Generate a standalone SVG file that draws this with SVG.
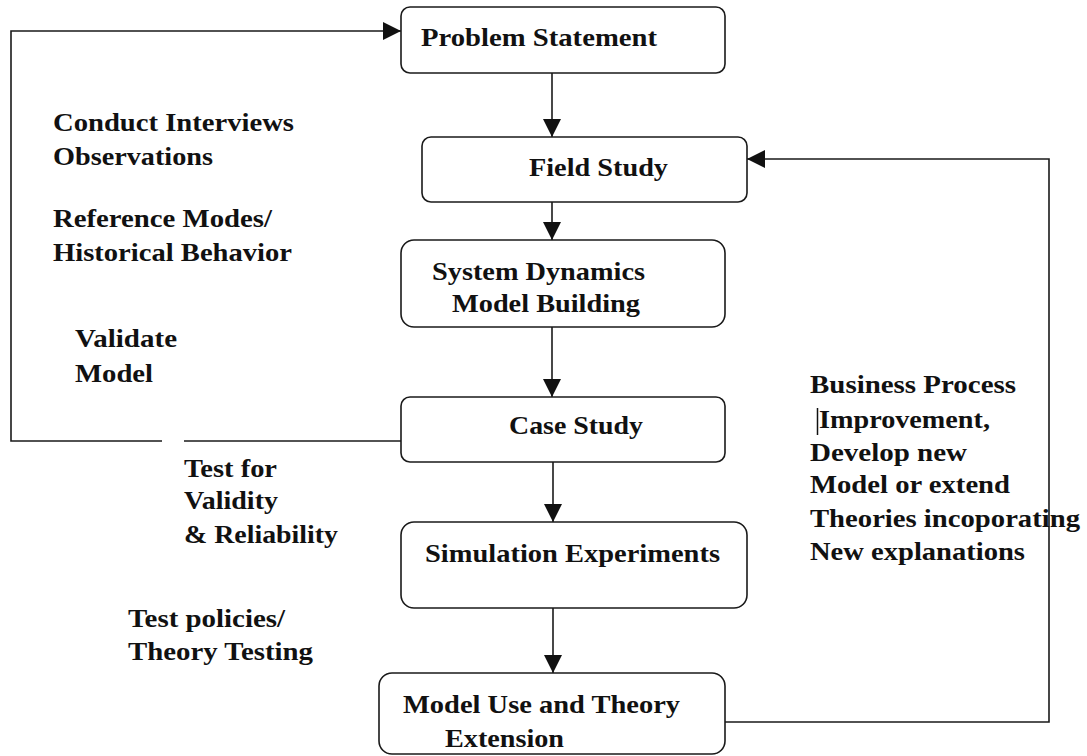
<svg xmlns="http://www.w3.org/2000/svg" width="1087" height="756" viewBox="0 0 1087 756">
  <style>
    .box { fill: #ffffff; stroke: #1a1a1a; stroke-width: 1.6; }
    .conn { fill: none; stroke: #1a1a1a; stroke-width: 1.6; }
    .t { font-family: "Liberation Serif", "Times New Roman", serif; font-size: 26px; font-weight: bold; fill: #111111; }
  </style>
  <defs>
    <marker id="arr" viewBox="0 0 18 18" refX="18" refY="9" markerWidth="18" markerHeight="18" orient="auto" markerUnits="userSpaceOnUse">
      <path d="M0,0 L18,9 L0,18 z" fill="#111111"/>
    </marker>
  </defs>
  <rect width="1087" height="756" fill="#ffffff"/>

  <g id="connectors">
    <line class="conn" x1="552" y1="73" x2="552" y2="137" marker-end="url(#arr)"/>
    <line class="conn" x1="552" y1="202" x2="552" y2="240" marker-end="url(#arr)"/>
    <line class="conn" x1="552" y1="327" x2="552" y2="397" marker-end="url(#arr)"/>
    <line class="conn" x1="553" y1="462" x2="553" y2="522" marker-end="url(#arr)"/>
    <line class="conn" x1="553" y1="608" x2="553" y2="673" marker-end="url(#arr)"/>
    <polyline class="conn" points="401,441 184,441"/>
    <polyline class="conn" points="162,441 11,441 11,31 401,31" marker-end="url(#arr)"/>
    <polyline class="conn" points="725,722 1049,722 1049,159 747,159" marker-end="url(#arr)"/>
  </g>

  <g id="problem-statement">
    <rect class="box" x="401" y="7" width="324" height="66" rx="9"/>
    <text class="t" x="421" y="46" textLength="236" lengthAdjust="spacingAndGlyphs">Problem Statement</text>
  </g>
  <g id="field-study">
    <rect class="box" x="422" y="137" width="325" height="65" rx="9"/>
    <text class="t" x="529" y="176" textLength="139" lengthAdjust="spacingAndGlyphs">Field Study</text>
  </g>
  <g id="system-dynamics">
    <rect class="box" x="401" y="240" width="324" height="87" rx="13"/>
    <text class="t" x="432" y="280" textLength="213" lengthAdjust="spacingAndGlyphs">System Dynamics</text>
    <text class="t" x="452" y="312" textLength="188" lengthAdjust="spacingAndGlyphs">Model Building</text>
  </g>
  <g id="case-study">
    <rect class="box" x="401" y="397" width="324" height="65" rx="9"/>
    <text class="t" x="509" y="434" textLength="134" lengthAdjust="spacingAndGlyphs">Case Study</text>
  </g>
  <g id="simulation-experiments">
    <rect class="box" x="401" y="522" width="346" height="86" rx="13"/>
    <text class="t" x="425" y="562" textLength="295" lengthAdjust="spacingAndGlyphs">Simulation Experiments</text>
  </g>
  <g id="model-use">
    <rect class="box" x="379" y="673" width="346" height="81" rx="13"/>
    <text class="t" x="403" y="713" textLength="277" lengthAdjust="spacingAndGlyphs">Model Use and Theory</text>
    <text class="t" x="445" y="747" textLength="119" lengthAdjust="spacingAndGlyphs">Extension</text>
  </g>

  <g id="label-interviews">
    <text class="t" x="53" y="131" textLength="241" lengthAdjust="spacingAndGlyphs">Conduct Interviews</text>
    <text class="t" x="53" y="165" textLength="160" lengthAdjust="spacingAndGlyphs">Observations</text>
  </g>
  <g id="label-reference">
    <text class="t" x="53" y="227" textLength="219" lengthAdjust="spacingAndGlyphs">Reference Modes/</text>
    <text class="t" x="53" y="261" textLength="239" lengthAdjust="spacingAndGlyphs">Historical Behavior</text>
  </g>
  <g id="label-validate">
    <text class="t" x="75" y="347" textLength="102" lengthAdjust="spacingAndGlyphs">Validate</text>
    <text class="t" x="75" y="382" textLength="78" lengthAdjust="spacingAndGlyphs">Model</text>
  </g>
  <g id="label-test-validity">
    <text class="t" x="184" y="477" textLength="93" lengthAdjust="spacingAndGlyphs">Test for</text>
    <text class="t" x="184" y="509" textLength="94" lengthAdjust="spacingAndGlyphs">Validity</text>
    <text class="t" x="184" y="543" textLength="154" lengthAdjust="spacingAndGlyphs">&amp; Reliability</text>
  </g>
  <g id="label-test-policies">
    <text class="t" x="128" y="627" textLength="157" lengthAdjust="spacingAndGlyphs">Test policies/</text>
    <text class="t" x="128" y="660" textLength="185" lengthAdjust="spacingAndGlyphs">Theory Testing</text>
  </g>
  <g id="label-business">
    <text class="t" x="810" y="393" textLength="206" lengthAdjust="spacingAndGlyphs">Business Process</text>
    <line x1="817.5" y1="408" x2="817.5" y2="435" stroke="#111111" stroke-width="1.5"/>
    <text class="t" x="819" y="428" textLength="171" lengthAdjust="spacingAndGlyphs">Improvement,</text>
    <text class="t" x="810" y="461" textLength="157" lengthAdjust="spacingAndGlyphs">Develop new</text>
    <text class="t" x="810" y="493" textLength="200" lengthAdjust="spacingAndGlyphs">Model or extend</text>
    <text class="t" x="810" y="527" textLength="270" lengthAdjust="spacingAndGlyphs">Theories incoporating</text>
    <text class="t" x="810" y="560" textLength="215" lengthAdjust="spacingAndGlyphs">New explanations</text>
  </g>
</svg>
